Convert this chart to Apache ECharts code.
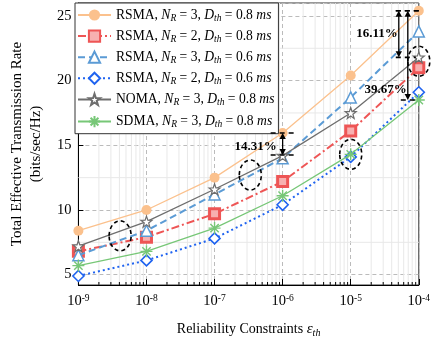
<!DOCTYPE html>
<html><head><meta charset="utf-8">
<script src="https://cdn.jsdelivr.net/npm/echarts@6/dist/echarts.min.js"></script>
<style>html,body{margin:0;padding:0;background:#fff}#c{width:433px;height:343px}</style>
</head><body><div id="c"></div>
<script>
// ---- data ----
var epsilon = [1e-9, 1e-8, 1e-7, 1e-6, 1e-5, 1e-4];
var rsmaN3D08 = [8.4, 10.0, 12.5, 15.95, 20.4, 25.4];
var rsmaN2D08 = [6.8, 7.9, 9.7, 12.2, 16.1, 21.0];
var rsmaN3D06 = [6.5, 8.4, 11.2, 14.0, 18.7, 23.8];
var rsmaN2D06 = [4.9, 6.1, 7.8, 10.4, 14.1, 19.1];
var nomaN3D08 = [7.2, 9.1, 11.6, 14.2, 17.5, 21.8];
var sdmaN3D08 = [5.7, 6.8, 8.6, 11.1, 14.3, 18.5];
var seriesNames = [
  'RSMA, N_R = 3, D_th = 0.8 ms',
  'RSMA, N_R = 2, D_th = 0.8 ms',
  'RSMA, N_R = 3, D_th = 0.6 ms',
  'RSMA, N_R = 2, D_th = 0.6 ms',
  'NOMA, N_R = 3, D_th = 0.8 ms',
  'SDMA, N_R = 3, D_th = 0.8 ms'
];
var yTicks = [5, 10, 15, 20, 25];
var yMinorGrid = [7.5, 12.5, 17.5, 22.5];
// annotation anchors (data coords)
var circleMarks = [[4.1e-9, 8.0], [3.35e-7, 12.7], [1e-5, 14.3], [1e-4, 21.5]];
var gapMarks = [
  {x: 1e-6, top: 15.95, bottom: 14.25, label: '14.31%'},
  {x: 1e-4, top: 25.4, bottom: 21.8, label: '16.11%'},
  {x: 1e-4, top: 25.4, bottom: 18.5, label: '39.67%'}
];

// minor x positions (axis ticks k*10^n)
var minorX = [];
for (var n = -9; n < -4; n++) for (var k = 2; k <= 9; k++) minorX.push(k * Math.pow(10, n));

var SERIF = '"Liberation Serif", "DejaVu Serif", serif';
var YMIN = 4.2, YMAX = 26;

function zip(v) { return epsilon.map(function (x, i) { return [x, v[i]]; }); }

var starPath = 'path://M0,-10 L2.35,-3.24 L9.51,-3.09 L3.8,1.24 L5.88,8.09 L0,4 L-5.88,8.09 L-3.8,1.24 L-9.51,-3.09 L-2.35,-3.24 Z';
var asteriskPath = 'path://M0,-10 L0,10 M-10,0 L10,0 M-7,-7 L7,7 M-7,7 L7,-7';

function richName(s) {
  var m = s.match(/^(\w+), N_R = (\d), D_th = ([\d.]+) ms$/);
  return '{a|' + m[1] + ', }{i|N}{s|R}{a| = ' + m[2] + ', }{i|D}{s|th}{a| = ' + m[3] + ' }{i|ms}';
}

var styles = [
  {color: '#FBC18D', symbol: 'circle', size: 10, fill: '#FBC18D', bw: 0, lt: 'solid', lw: 1.3},
  {color: '#EE5555', symbol: 'rect', size: 10, fill: '#F7B0B0', bw: 3, lt: [8, 3, 2, 3], lw: 2},
  {color: '#5B9BD5', symbol: 'triangle', size: 11, fill: '#fff', bw: 1.5, lt: [7, 4], lw: 2},
  {color: '#1F63F0', symbol: 'diamond', size: 11, fill: '#fff', bw: 1.6, lt: [2, 3], lw: 2},
  {color: '#6E6E6E', symbol: starPath, size: 11, fill: '#fff', bw: 1.2, lt: 'solid', lw: 1.3},
  {color: '#77C777', symbol: asteriskPath, size: 12, fill: 'none', bw: 1.4, lt: 'solid', lw: 1.3}
];
var values = [rsmaN3D08, rsmaN2D08, rsmaN3D06, rsmaN2D06, nomaN3D08, sdmaN3D08];

var series = [];
series.push({
  type: 'custom', silent: true, z: 1, clip: false,
  data: minorX.map(function (x) { return [x, YMIN]; }),
  renderItem: function (params, api) {
    var p = api.coord([api.value(0), YMIN]);
    var cs = params.coordSys;
    return {type: 'group', children: [
      {type: 'line', shape: {x1: p[0], y1: cs.y, x2: p[0], y2: cs.y + cs.height}, style: {stroke: '#e8e8e8', lineWidth: 1}},
      {type: 'line', shape: {x1: p[0], y1: cs.y + cs.height, x2: p[0], y2: cs.y + cs.height - 3}, style: {stroke: '#000', lineWidth: 1}}
    ]};
  }
});
series.push({
  type: 'custom', silent: true, z: 1, clip: false,
  data: yMinorGrid.map(function (y) { return [1e-9, y]; }),
  renderItem: function (params, api) {
    var p = api.coord([1e-9, api.value(1)]);
    var cs = params.coordSys;
    return {type: 'line', shape: {x1: cs.x, y1: p[1], x2: cs.x + cs.width, y2: p[1]}, style: {stroke: '#e8e8e8', lineWidth: 1}};
  }
});
values.forEach(function (v, i) {
  var s = styles[i];
  series.push({
    name: seriesNames[i], type: 'line', data: zip(v), z: 3 + i,
    symbol: s.symbol, symbolSize: s.size, showAllSymbol: true,
    lineStyle: {color: s.color, width: s.lw, type: s.lt},
    itemStyle: {color: s.fill, borderColor: s.color, borderWidth: s.bw},
    emphasis: {disabled: true}
  });
});

var richLegend = {
  a: {fontFamily: SERIF, fontSize: 13.6, color: '#000', lineHeight: 16},
  i: {fontFamily: SERIF, fontSize: 13.6, fontStyle: 'italic', color: '#000', lineHeight: 16},
  s: {fontFamily: SERIF, fontSize: 9.5, fontStyle: 'italic', color: '#000', lineHeight: 9, verticalAlign: 'bottom'}
};

var chart = echarts.init(document.getElementById('c'), null, {renderer: 'canvas'});
chart.setOption({
  animation: false,
  backgroundColor: '#fff',
  grid: {left: 73, right: 8, top: 3, bottom: 58, show: true, borderColor: '#333', borderWidth: 1, backgroundColor: 'transparent'},
  legend: {
    data: seriesNames, orient: 'vertical', left: 75, top: 3,
    itemWidth: 33, itemHeight: 14, itemGap: 6.1,
    padding: [5, 4, 4, 2], borderColor: '#333', borderWidth: 1, backgroundColor: '#fff',
    formatter: function (n) { return richName(n); },
    textStyle: {rich: richLegend}
  },
  xAxis: {
    type: 'log', logBase: 10, min: 1e-9, max: 1e-4,
    name: '{a|Reliability Constraints }{i|ε}{s|th}', nameLocation: 'middle', nameGap: 35,
    nameTextStyle: {rich: {
      a: {fontFamily: SERIF, fontSize: 14, color: '#000', lineHeight: 18},
      i: {fontFamily: SERIF, fontSize: 15, fontStyle: 'italic', color: '#000', lineHeight: 18},
      s: {fontFamily: SERIF, fontSize: 10, fontStyle: 'italic', color: '#000', lineHeight: 10, verticalAlign: 'bottom'}
    }},
    axisLine: {show: true, lineStyle: {color: '#000', width: 1}},
    axisTick: {show: true, inside: true, length: 6, lineStyle: {color: '#000'}},
    minorTick: {show: false},
    splitLine: {show: true, lineStyle: {color: '#bbb', type: [4, 3], width: 1}},
    axisLabel: {
      margin: 8, color: '#000',
      formatter: function (v) { var e = Math.round(Math.log10(v)); return '{b|10}{sup|' + e + '}'; },
      rich: {
        b: {fontFamily: SERIF, fontSize: 14.5, color: '#000', lineHeight: 16},
        sup: {fontFamily: SERIF, fontSize: 9.5, color: '#000', lineHeight: 9, verticalAlign: 'top'}
      }
    }
  },
  yAxis: {
    type: 'value', min: YMIN, max: YMAX,
    name: 'Total Effective Transmission Rate\n(bits/sec/Hz)', nameLocation: 'middle', nameGap: 24, nameRotate: 90,
    nameTextStyle: {fontFamily: SERIF, fontSize: 15, color: '#000', lineHeight: 19},
    axisLine: {show: true, lineStyle: {color: '#000', width: 1}},
    axisTick: {show: true, inside: true, length: 5, lineStyle: {color: '#000'}},
    splitLine: {show: true, lineStyle: {color: '#bbb', type: [4, 3], width: 1}},
    axisLabel: {margin: 7, color: '#000', fontFamily: SERIF, fontSize: 14.5, showMinLabel: false, showMaxLabel: false,
      formatter: function (v) { return yTicks.indexOf(Math.round(v * 100) / 100) >= 0 ? String(v) : ''; }}
  },
  series: series
});

// ---- annotations via the axes' scales ----
function px(x, y) { return chart.convertToPixel({gridIndex: 0}, [x, y]); }
var g = [];
circleMarks.forEach(function (c) {
  var p = px(c[0], c[1]);
  g.push({type: 'ellipse', shape: {cx: p[0], cy: p[1], rx: 11, ry: 15}, z: 50,
    style: {fill: 'none', stroke: '#000', lineWidth: 1.6, lineDash: [4, 3]}});
});
function arrow(x, y1, y2) {
  var h = 6, w = 3.2;
  g.push({type: 'line', shape: {x1: x, y1: y1 + 2, x2: x, y2: y2 - 2}, z: 51, style: {stroke: '#000', lineWidth: 1.3}});
  g.push({type: 'polygon', shape: {points: [[x, y1], [x - w, y1 + h], [x + w, y1 + h]]}, z: 51, style: {fill: '#000'}});
  g.push({type: 'polygon', shape: {points: [[x, y2], [x - w, y2 - h], [x + w, y2 - h]]}, z: 51, style: {fill: '#000'}});
}
function dash(x1, x2, y) {
  g.push({type: 'line', shape: {x1: x1, y1: y, x2: x2, y2: y}, z: 51, style: {stroke: '#000', lineWidth: 1.6, lineDash: [5, 4]}});
}
var cfg = [
  {ax: 0, dashes: [[-12, 12], [-12, 12]], lx: -6, ly: 0.6, align: 'right'},
  {ax: -20, dashes: [[-23, 2], [-23, -3]], lx: -1, ly: 0.5, align: 'right'},
  {ax: -11, dashes: [[-23, 2], [-18, 0]], lx: -1, ly: 0.88, align: 'right'}
];
gapMarks.forEach(function (m, i) {
  var c = cfg[i];
  var pt = px(m.x, m.top), pb = px(m.x, m.bottom);
  var x = pt[0] + c.ax;
  dash(pt[0] + c.dashes[0][0], pt[0] + c.dashes[0][1], pt[1]);
  dash(pt[0] + c.dashes[1][0], pt[0] + c.dashes[1][1], pb[1]);
  arrow(x, pt[1], pb[1]);
  g.push({type: 'text', z: 52, x: x + c.lx, y: pt[1] + (pb[1] - pt[1]) * c.ly,
    style: {text: m.label, fill: '#000', font: 'bold 13px ' + SERIF, textAlign: c.align, textVerticalAlign: 'middle'}});
});
chart.setOption({graphic: g});
</script></body></html>
